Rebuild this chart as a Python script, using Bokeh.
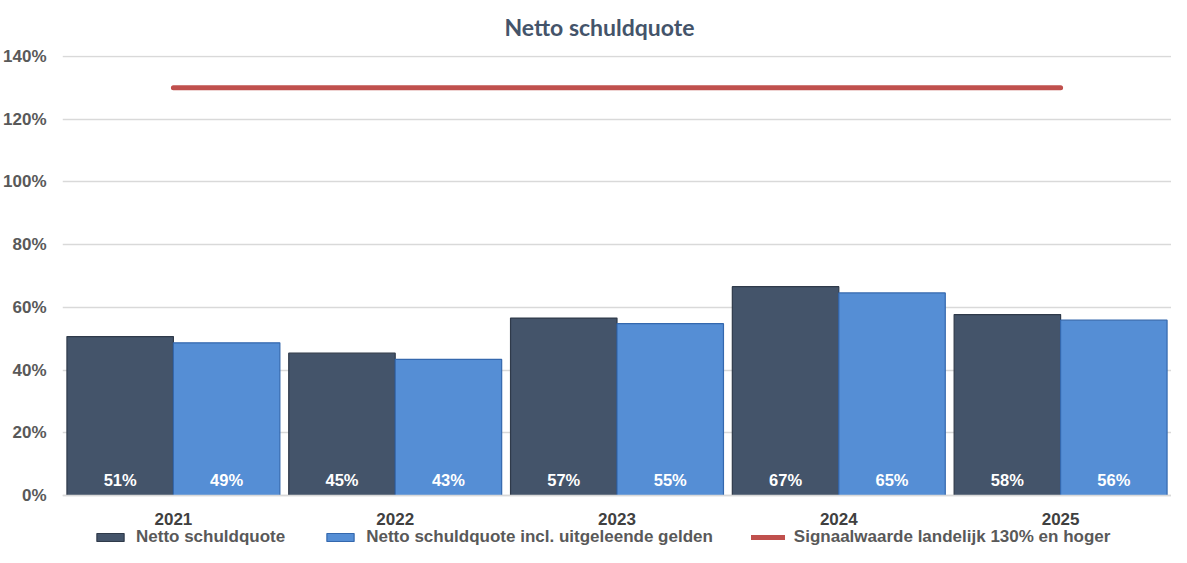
from bokeh.plotting import figure
from bokeh.models import (ColumnDataSource, FactorRange, Range1d, Legend, LegendItem,
                          LabelSet, PrintfTickFormatter, FixedTicker, CategoricalAxis)
from bokeh.core.properties import value
from bokeh.transform import dodge
from bokeh.embed import file_html
from bokeh.resources import INLINE

years = ["2021", "2022", "2023", "2024", "2025"]
netto = [50.7, 45.4, 56.6, 66.6, 57.7]
netto_incl = [48.7, 43.4, 54.8, 64.6, 55.9]
signaal = [130, 130, 130, 130, 130]
series_names = ["Netto schuldquote", "Netto schuldquote incl. uitgeleende gelden",
                "Signaalwaarde landelijk 130% en hoger"]
y_ticks = [0, 20, 40, 60, 80, 100, 120, 140]

src = ColumnDataSource(dict(
    years=years, netto=netto, netto_incl=netto_incl, signaal=signaal,
    lab_netto=[f"{round(v)}%" for v in netto],
    lab_incl=[f"{round(v)}%" for v in netto_incl],
    zero=[0] * len(years),
))

DARK = "#44546A"
BLUE = "#558ED5"
RED = "#C0504D"
AXIS_FONT = "Liberation Sans"

p = figure(width=1171, height=547, output_backend="svg", toolbar_location=None,
           x_range=FactorRange(*years, range_padding=0),
           y_range=Range1d(-16.58, 140.32),
           min_border_left=60, min_border_right=0, min_border_top=0, min_border_bottom=0,
           x_axis_location=None)

p.title.text = "Netto schuldquote"
p.title.align = "left"
p.title.offset = 442
p.title.vertical_align = "top"
p.title.text_font = "Lato"
p.title.text_font_size = "23px"
p.title.text_font_style = "bold"
p.title.text_color = DARK
p.title.standoff = 25

r1 = p.vbar(x=dodge("years", -0.24, range=p.x_range), top="netto", width=0.48, source=src,
            fill_color=DARK, line_color="#2F3A4A", line_width=1.2)
r2 = p.vbar(x=dodge("years", 0.24, range=p.x_range), top="netto_incl", width=0.48, source=src,
            fill_color=BLUE, line_color="#3468AE", line_width=1.2)
r3 = p.line(x="years", y="signaal", source=src, line_color=RED, line_width=5,
            line_cap="round")

for col, off in (("lab_netto", -0.24), ("lab_incl", 0.24)):
    p.add_layout(LabelSet(x=dodge("years", off, range=p.x_range), y="zero", text=col,
                          source=src, text_align="center", text_baseline="bottom",
                          y_offset=7, text_color="white", text_font=value(AXIS_FONT),
                          text_font_size="16.5px", text_font_style="bold"))

p.yaxis.ticker = FixedTicker(ticks=y_ticks)
p.yaxis.formatter = PrintfTickFormatter(format="%d%%")
p.yaxis.axis_line_color = None
p.yaxis.major_tick_line_color = None
p.yaxis.minor_tick_line_color = None
p.yaxis.major_label_text_font = AXIS_FONT
p.yaxis.major_label_text_font_size = "17px"
p.yaxis.major_label_text_font_style = "bold"
p.yaxis.major_label_text_color = "#595959"
p.yaxis.major_label_standoff = 10

xaxis = CategoricalAxis(fixed_location=0)
xaxis.axis_line_color = "#D9D9D9"
xaxis.axis_line_width = 1.5
xaxis.major_tick_line_color = None
xaxis.minor_tick_line_color = None
xaxis.major_label_text_font = AXIS_FONT
xaxis.major_label_text_font_size = "17px"
xaxis.major_label_text_font_style = "bold"
xaxis.major_label_text_color = "#404040"
xaxis.major_label_standoff = 11
p.add_layout(xaxis, "below")

p.xgrid.grid_line_color = None
p.ygrid.grid_line_color = "#D9D9D9"
p.ygrid.grid_line_width = 1.5
p.outline_line_color = None

legend = Legend(items=[LegendItem(label=series_names[0], renderers=[r1]),
                       LegendItem(label=series_names[1], renderers=[r2]),
                       LegendItem(label=series_names[2], renderers=[r3])],
                orientation="horizontal", location=(31, 0),
                glyph_width=34, glyph_height=10, spacing=38, label_standoff=9,
                label_height=17,
                label_text_font=AXIS_FONT, label_text_font_size="17px",
                label_text_font_style="bold", label_text_color="#595959",
                border_line_color=None, background_fill_alpha=0,
                padding=0, margin=0)
p.add_layout(legend)

open("out.html", "w").write(file_html(p, INLINE))
